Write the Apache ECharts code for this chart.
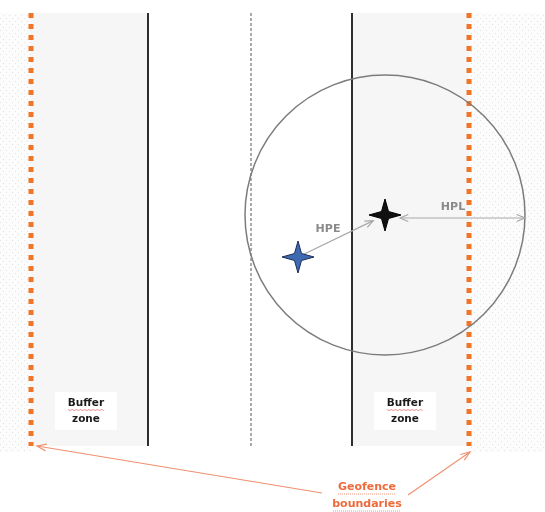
<!DOCTYPE html>
<html><head><meta charset="utf-8">
<script src="https://cdn.jsdelivr.net/npm/echarts@6/dist/echarts.min.js"></script>
<style>html,body{margin:0;padding:0;background:#fff}#c{width:545px;height:512px}</style>
</head><body><div id="c"></div>
<script>
// Diagram data (in diagram units; axes map 1 unit = 1 px)
const zoneEdges = [0, 31, 148, 352, 469, 545];
const zoneKinds = ['outside', 'buffer', 'lane', 'buffer', 'outside'];
const fenceTop = 13, fenceBottom = 446;
const geofenceX = [31, 469];
const laneEdgeX = [148, 352];
const laneCenterX = [251];
const truePos = [385, 215];
const estPos = [298, 257];
const hplRadius = 140;
const bufferLabelPos = [[86, 411], [405, 411]];
const bufferLabelText = ['Buffer', 'zone'];
const geofenceLabelPos = [367, 495];
const geofenceLabelText = ['Geofence', 'boundaries'];
const geofenceArrows = [[[322, 493], [37, 446]], [[408, 495], [470, 452]]];
const hpeLabelPos = [328, 229];
const hplLabelPos = [453, 207];

// pattern for area outside geofence
const pat = document.createElement('canvas');
pat.width = 6; pat.height = 6;
const pc = pat.getContext('2d');
pc.fillStyle = '#fcfcfc'; pc.fillRect(0, 0, 6, 6);
pc.fillStyle = '#e2e2e2'; pc.fillRect(0, 0, 1, 1); pc.fillRect(3, 3, 1, 1);

const zoneData = zoneKinds.map((k, i) => [zoneEdges[i], zoneEdges[i + 1], i]);

function arrowHead(tip, from, len, ang) {
  const dx = from[0] - tip[0], dy = from[1] - tip[1];
  const d = Math.hypot(dx, dy), ux = dx / d, uy = dy / d;
  const c = Math.cos(ang), s = Math.sin(ang);
  const a = [tip[0] + len * (ux * c - uy * s), tip[1] + len * (ux * s + uy * c)];
  const b = [tip[0] + len * (ux * c + uy * s), tip[1] + len * (-ux * s + uy * c)];
  return [a, tip, b];
}
function star(c, R, w) {
  const [x, y] = c;
  return [[x, y - R], [x + w, y - w], [x + R, y], [x + w, y + w], [x, y + R], [x - w, y + w], [x - R, y], [x - w, y - w]];
}

const chart = echarts.init(document.getElementById('c'));
chart.setOption({
  animation: false,
  grid: { left: 0, right: 0, top: 0, bottom: 0 },
  xAxis: { type: 'value', min: 0, max: 545, show: false },
  yAxis: { type: 'value', min: 0, max: 512, inverse: true, show: false },
  series: [
    { // zones
      type: 'custom', silent: true, data: zoneData,
      renderItem: (p, api) => {
        const a = api.coord([api.value(0), fenceTop]);
        const b = api.coord([api.value(1), fenceBottom + (zoneKinds[api.value(2)] === 'outside' ? 6 : 0)]);
        const k = zoneKinds[api.value(2)];
        const fill = k === 'outside' ? { image: pat, repeat: 'repeat' } : (k === 'buffer' ? '#f6f6f6' : '#ffffff');
        return { type: 'rect', shape: { x: a[0], y: a[1], width: b[0] - a[0], height: b[1] - a[1] }, style: { fill } };
      }
    },
    { // buffer label boxes + text
      type: 'custom', silent: true, data: bufferLabelPos,
      renderItem: (p, api) => {
        const c = api.coord([api.value(0), api.value(1)]);
        const wave = [];
        for (let i = 0; i <= 17; i++) wave.push([c[0] - 18 + i * 2.1, c[1] - 1.5 + (i % 2 ? 1 : 0)]);
        return { type: 'group', children: [
          { type: 'rect', shape: { x: c[0] - 31, y: c[1] - 19, width: 62, height: 38 }, style: { fill: '#fff' } },
          { type: 'text', style: { text: bufferLabelText[0], x: c[0], y: c[1] - 8, align: 'center', verticalAlign: 'middle', font: 'bold 10.5px "DejaVu Sans"', fill: '#1a1a1a' } },
          { type: 'polyline', shape: { points: wave }, style: { stroke: '#e07070', lineWidth: 0.8, fill: null } },
          { type: 'text', style: { text: bufferLabelText[1], x: c[0], y: c[1] + 8, align: 'center', verticalAlign: 'middle', font: 'bold 10.5px "DejaVu Sans"', fill: '#1a1a1a' } }
        ] };
      }
    },
    { // lane edges (solid)
      type: 'custom', silent: true, data: laneEdgeX.map(x => [x]),
      renderItem: (p, api) => {
        const a = api.coord([api.value(0), fenceTop]), b = api.coord([api.value(0), fenceBottom]);
        return { type: 'line', shape: { x1: a[0], y1: a[1], x2: b[0], y2: b[1] }, style: { stroke: '#2e2e2e', lineWidth: 2 } };
      }
    },
    { // lane centre (dashed)
      type: 'custom', silent: true, data: laneCenterX.map(x => [x]),
      renderItem: (p, api) => {
        const a = api.coord([api.value(0), fenceTop]), b = api.coord([api.value(0), fenceBottom]);
        return { type: 'line', shape: { x1: a[0], y1: a[1], x2: b[0], y2: b[1] }, style: { stroke: '#555', lineWidth: 1, lineDash: [3, 2] } };
      }
    },
    { // geofence boundaries
      type: 'custom', silent: true, data: geofenceX.map(x => [x]),
      renderItem: (p, api) => {
        const a = api.coord([api.value(0), fenceTop]), b = api.coord([api.value(0), fenceBottom]);
        return { type: 'line', shape: { x1: a[0], y1: a[1], x2: b[0], y2: b[1] }, style: { stroke: '#f07526', lineWidth: 5, lineDash: [5, 6] } };
      }
    },
    { // HPL circle
      type: 'custom', silent: true, data: [[truePos[0], truePos[1], hplRadius]],
      renderItem: (p, api) => {
        const c = api.coord([api.value(0), api.value(1)]);
        const e = api.coord([api.value(0) + api.value(2), api.value(1)]);
        return { type: 'circle', shape: { cx: c[0], cy: c[1], r: e[0] - c[0] }, style: { fill: null, stroke: '#7c7c7c', lineWidth: 1.5 } };
      }
    },
    { // HPE and HPL arrows
      type: 'custom', silent: true, data: [0],
      renderItem: (p, api) => {
        const t = api.coord(truePos), e = api.coord(estPos);
        const dx = t[0] - e[0], dy = t[1] - e[1], d = Math.hypot(dx, dy);
        const s = [e[0] + dx / d * 3, e[1] + dy / d * 3];
        const tip = [t[0] - dx / d * 13, t[1] - dy / d * 13];
        const hs = [t[0] + 15, t[1] + 3];
        const he = api.coord([truePos[0] + hplRadius, truePos[1] + 3]);
        const st = { stroke: '#a8a8a8', lineWidth: 1.2, fill: null };
        return { type: 'group', children: [
          { type: 'line', shape: { x1: s[0], y1: s[1], x2: tip[0], y2: tip[1] }, style: st },
          { type: 'polyline', shape: { points: arrowHead(tip, s, 9, 0.4) }, style: st },
          { type: 'line', shape: { x1: hs[0], y1: hs[1], x2: he[0], y2: he[1] }, style: st },
          { type: 'polyline', shape: { points: arrowHead(hs, he, 9, 0.4) }, style: st },
          { type: 'polyline', shape: { points: arrowHead(he, hs, 9, 0.4) }, style: st }
        ] };
      }
    },
    { // labels HPE / HPL
      type: 'custom', silent: true, data: [[hpeLabelPos[0], hpeLabelPos[1], 0], [hplLabelPos[0], hplLabelPos[1], 1]],
      renderItem: (p, api) => {
        const c = api.coord([api.value(0), api.value(1)]);
        return { type: 'text', style: { text: ['HPE', 'HPL'][api.value(2)], x: c[0], y: c[1], align: 'center', verticalAlign: 'middle', font: 'bold 11px "DejaVu Sans"', fill: '#8a8a8a' } };
      }
    },
    { // positions (stars)
      type: 'custom', silent: true, data: [[estPos[0], estPos[1], 0], [truePos[0], truePos[1], 1]],
      renderItem: (p, api) => {
        const c = api.coord([api.value(0), api.value(1)]);
        const blue = api.value(2) === 0;
        return { type: 'polygon', shape: { points: star(c, 16, 3.5) },
          style: { fill: blue ? '#3d6ab0' : '#111', stroke: blue ? '#1d2f58' : '#000', lineWidth: 1 } };
      }
    },
    { // geofence label + arrows
      type: 'custom', silent: true, data: [0],
      renderItem: (p, api) => {
        const c = api.coord(geofenceLabelPos);
        const st = { stroke: '#f09070', lineWidth: 1.2, fill: null };
        const kids = [];
        geofenceArrows.forEach(([from, to]) => {
          const f = api.coord(from), t = api.coord(to);
          kids.push({ type: 'line', shape: { x1: f[0], y1: f[1], x2: t[0], y2: t[1] }, style: st });
          kids.push({ type: 'polyline', shape: { points: arrowHead(t, f, 10, 0.35) }, style: st });
        });
        geofenceLabelText.forEach((tx, i) => {
          const y = c[1] - 8 + i * 17;
          kids.push({ type: 'text', style: { text: tx, x: c[0], y, align: 'center', verticalAlign: 'middle', font: 'bold 11px "DejaVu Sans"', fill: '#ee6a3a' } });
          const w = i === 0 ? 29 : 34;
          kids.push({ type: 'line', shape: { x1: c[0] - w, y1: y + 7, x2: c[0] + w, y2: y + 7 }, style: { stroke: '#ee7a5a', lineWidth: 0.8, lineDash: [1, 1] } });
        });
        return { type: 'group', children: kids };
      }
    }
  ]
});
</script>
</body></html>
